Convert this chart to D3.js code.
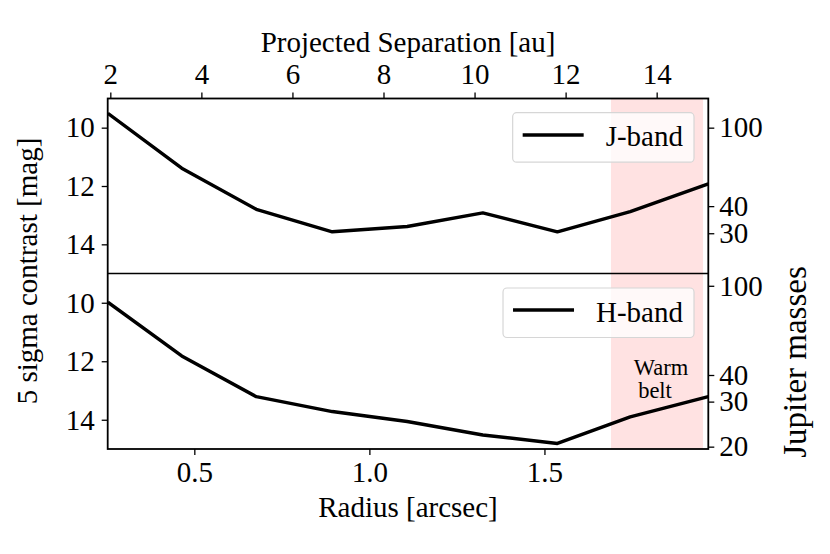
<!DOCTYPE html>
<html>
<head>
<meta charset="utf-8">
<script src="https://cdn.jsdelivr.net/npm/d3@7"></script>
<style>
  html, body { margin: 0; padding: 0; background: #fff; }
  svg text { font-family: "Liberation Serif", "DejaVu Serif", serif; fill: #000; }
</style>
</head>
<body>
<svg id="chart" width="830" height="554"></svg>
<script>
// ---------------- data ----------------
const radiusArcsec = [0.253, 0.464, 0.677, 0.894, 1.108, 1.324, 1.537, 1.745, 1.968];
const jBandMag     = [9.51, 11.39, 12.80, 13.57, 13.39, 12.92, 13.57, 12.88, 11.93];
const hBandMag     = [9.98, 11.82, 13.21, 13.72, 14.06, 14.52, 14.81, 13.90, 13.21];

const radiusTicks  = [0.5, 1.0, 1.5];
const auTicks      = [2, 4, 6, 8, 10, 12, 14];
const magTicks     = [10, 12, 14];

// Jupiter-mass tick labels and the contrast (mag) at which each sits
const massLabelsJ  = [100, 40, 30];
const massMagJ     = [10.0, 12.69, 13.62];
const massLabelsH  = [100, 40, 30, 20];
const massMagH     = [9.42, 12.47, 13.38, 14.92];

const distancePc   = 7.69;           // au = arcsec * pc
const warmBelt     = [1.69, 1.953];  // arcsec
const radiusDomain = [0.2526, 1.968];
const magDomain    = [9, 15];

// ---------------- layout ----------------
const svg = d3.select("#chart");
const L = 107.7, R = 708.3;
const topY0 = 98.5, midY = 273.5, botY1 = 449;
const FS = 29;

const x = d3.scaleLinear().domain(radiusDomain).range([L, R]);
const xAu = d3.scaleLinear().domain(radiusDomain.map(v => v * distancePc)).range([L, R]);
const yTop = d3.scaleLinear().domain(magDomain).range([topY0, midY]);
const yBot = d3.scaleLinear().domain(magDomain).range([midY, botY1]);

const line = (ys) => d3.line().x((d, i) => x(radiusArcsec[i])).y(d => ys(d));

// clip paths
const defs = svg.append("defs");
defs.append("clipPath").attr("id", "clipTop").append("rect")
  .attr("x", L).attr("y", topY0).attr("width", R - L).attr("height", midY - topY0);
defs.append("clipPath").attr("id", "clipBot").append("rect")
  .attr("x", L).attr("y", midY).attr("width", R - L).attr("height", botY1 - midY);

// warm belt bands
[yTop, yBot].forEach(ys => {
  const r = ys.range();
  svg.append("rect")
    .attr("x", x(warmBelt[0])).attr("width", x(warmBelt[1]) - x(warmBelt[0]))
    .attr("y", r[0]).attr("height", r[1] - r[0])
    .attr("fill", "#ffe2e2");
});

// data lines
svg.append("path").datum(jBandMag).attr("clip-path", "url(#clipTop)")
  .attr("d", line(yTop)).attr("fill", "none").attr("stroke", "#000")
  .attr("stroke-width", 3.4).attr("stroke-linejoin", "round");
svg.append("path").datum(hBandMag).attr("clip-path", "url(#clipBot)")
  .attr("d", line(yBot)).attr("fill", "none").attr("stroke", "#000")
  .attr("stroke-width", 3.4).attr("stroke-linejoin", "round");

// legends
function legend(label, yTopBox, lineY, baseY) {
  const g = svg.append("g");
  const t = g.append("text").attr("font-size", FS).text(label);
  const tw = t.node().getComputedTextLength();
  const boxRight = 694;
  const textStart = boxRight - 11 - tw;
  const lineEnd = textStart - 22, lineStart = lineEnd - 61;
  const boxLeft = lineStart - 10;
  g.insert("rect", "text")
    .attr("x", boxLeft).attr("y", yTopBox).attr("width", boxRight - boxLeft).attr("height", 49.5)
    .attr("rx", 4).attr("fill", "#fff").attr("fill-opacity", 0.8)
    .attr("stroke", "#d6d6d6").attr("stroke-width", 1.2);
  g.insert("line", "text").attr("x1", lineStart).attr("x2", lineEnd)
    .attr("y1", lineY).attr("y2", lineY).attr("stroke", "#000").attr("stroke-width", 3.4);
  t.attr("x", textStart).attr("y", baseY);
}
legend("J-band", 112.7, 135, 146);
legend("H-band", 288, 310, 321.5);

// warm belt text
svg.append("text").attr("x", 661).attr("y", 375).attr("text-anchor", "middle")
  .attr("font-size", 22.5).text("Warm");
svg.append("text").attr("x", 655).attr("y", 398).attr("text-anchor", "middle")
  .attr("font-size", 22.5).text("belt");

// axes
function styleAxis(g) {
  g.select(".domain").remove();
  g.selectAll(".tick line").attr("stroke", "#000").attr("stroke-width", 1.3);
  g.selectAll(".tick text").attr("font-size", FS).attr("font-family", "Liberation Serif");
}
// left axes
[yTop, yBot].forEach(ys => {
  svg.append("g").attr("transform", `translate(${L},0)`)
    .call(d3.axisLeft(ys).tickValues(magTicks).tickFormat(d3.format("d")).tickSize(6).tickPadding(7))
    .call(styleAxis);
});
// right axes (mass)
svg.append("g").attr("transform", `translate(${R},0)`)
  .call(d3.axisRight(yTop).tickValues(massMagJ).tickFormat((d, i) => massLabelsJ[i]).tickSize(6).tickPadding(5))
  .call(styleAxis);
svg.append("g").attr("transform", `translate(${R},0)`)
  .call(d3.axisRight(yBot).tickValues(massMagH).tickFormat((d, i) => massLabelsH[i]).tickSize(6).tickPadding(5))
  .call(styleAxis);
// bottom axis
svg.append("g").attr("transform", `translate(0,${botY1})`)
  .call(d3.axisBottom(x).tickValues(radiusTicks).tickFormat(d3.format(".1f")).tickSize(6).tickPadding(6))
  .call(styleAxis);
// top axis (au)
svg.append("g").attr("transform", `translate(0,${topY0})`)
  .call(d3.axisTop(xAu).tickValues(auTicks).tickFormat(d3.format("d")).tickSize(6).tickPadding(9))
  .call(styleAxis);

// frames
svg.append("rect").attr("x", L).attr("y", topY0).attr("width", R - L).attr("height", botY1 - topY0)
  .attr("fill", "none").attr("stroke", "#000").attr("stroke-width", 1.8);
svg.append("line").attr("x1", L).attr("x2", R).attr("y1", midY).attr("y2", midY)
  .attr("stroke", "#000").attr("stroke-width", 1.5);

// axis titles
svg.append("text").attr("x", (L + R) / 2).attr("y", 52).attr("text-anchor", "middle")
  .attr("font-size", FS).text("Projected Separation [au]");
svg.append("text").attr("x", (L + R) / 2).attr("y", 517).attr("text-anchor", "middle")
  .attr("font-size", FS).text("Radius [arcsec]");
svg.append("text").attr("transform", "translate(37,271) rotate(-90)").attr("text-anchor", "middle")
  .attr("font-size", FS).text("5 sigma contrast [mag]");
svg.append("text").attr("transform", "translate(806,362) rotate(-90)").attr("text-anchor", "middle")
  .attr("font-size", 33).text("Jupiter masses");
</script>
</body>
</html>
